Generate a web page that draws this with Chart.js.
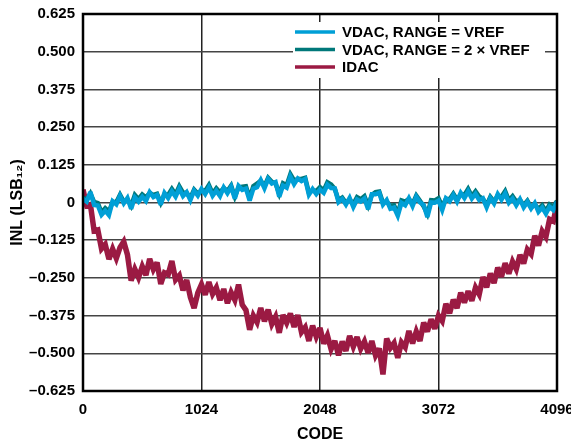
<!DOCTYPE html>
<html>
<head>
<meta charset="utf-8">
<title>INL vs CODE</title>
<script src="https://cdn.jsdelivr.net/npm/chart.js@4.4.1/dist/chart.umd.min.js"></script>
<style>
  html, body { margin: 0; padding: 0; background: #fff; }
  #wrap { width: 571px; height: 445px; }
</style>
</head>
<body>
<div id="wrap"><canvas id="inlChart" width="571" height="445"></canvas></div>
<script>
// codes sampled every 32 LSB
var codes = [0,32,64,96,128,160,192,224,256,288,320,352,384,416,448,480,512,544,576,608,
  640,672,704,736,768,800,832,864,896,928,960,992,1024,1056,1088,1120,1152,1184,1216,1248,
  1280,1312,1344,1376,1408,1440,1472,1504,1536,1568,1600,1632,1664,1696,1728,1760,1792,1824,1856,1888,
  1920,1952,1984,2016,2048,2080,2112,2144,2176,2208,2240,2272,2304,2336,2368,2400,2432,2464,2496,2528,
  2560,2592,2624,2656,2688,2720,2752,2784,2816,2848,2880,2912,2944,2976,3008,3040,3072,3104,3136,3168,
  3200,3232,3264,3296,3328,3360,3392,3424,3456,3488,3520,3552,3584,3616,3648,3680,3712,3744,3776,3808,
  3840,3872,3904,3936,3968,4000,4032,4064,4096];

var vdacVref = [0.012,0.003,0.035,-0.008,-0.010,-0.041,-0.027,-0.042,0.004,-0.006,
  0.022,-0.003,0.015,-0.021,0.017,0.003,0.019,0.005,0.034,0.018,
  0.025,-0.007,0.032,0.015,0.037,0.019,0.046,0.021,0.034,0.008,
  0.039,0.023,0.045,0.028,0.050,0.022,0.039,0.021,0.050,0.031,
  0.052,0.013,0.055,0.042,0.046,0.006,0.046,0.051,0.074,0.047,
  0.078,0.063,0.068,0.019,0.056,0.049,0.086,0.061,0.080,0.071,
  0.078,0.026,0.045,0.028,0.043,0.032,0.059,0.048,0.047,0.001,
  0.012,-0.007,0.015,-0.015,0.010,0.003,0.013,-0.022,0.027,0.027,
  0.032,-0.007,0.008,-0.021,-0.017,-0.044,-0.001,-0.009,0.014,-0.012,
  0.019,0.000,-0.008,-0.048,0.000,-0.001,0.006,-0.025,0.014,0.004,
  0.025,0.003,0.032,0.015,0.037,0.013,0.029,0.008,0.014,-0.016,
  0.015,-0.003,0.028,0.009,0.030,-0.001,0.013,-0.009,0.011,-0.016,
  0.002,-0.020,-0.002,-0.031,-0.017,-0.037,-0.014,-0.025,0.003];

var vdac2Vref = [0.016,0.009,0.030,0.002,-0.002,-0.033,-0.019,-0.030,0.002,0.001,
  0.026,0.003,0.010,-0.011,0.025,0.011,0.027,0.017,0.032,0.025,
  0.029,-0.001,0.027,0.025,0.045,0.027,0.054,0.033,0.032,0.015,
  0.043,0.029,0.040,0.038,0.058,0.030,0.047,0.033,0.048,0.038,
  0.056,0.019,0.050,0.052,0.054,0.014,0.054,0.063,0.072,0.054,
  0.082,0.069,0.063,0.029,0.064,0.057,0.094,0.073,0.078,0.078,
  0.082,0.032,0.040,0.038,0.051,0.040,0.067,0.060,0.045,0.008,
  0.016,-0.001,0.010,-0.005,0.018,0.011,0.021,-0.010,0.025,0.034,
  0.036,-0.001,0.003,-0.011,-0.009,-0.036,0.007,0.003,0.012,-0.005,
  0.023,0.006,-0.013,-0.038,0.008,0.007,0.014,-0.013,0.012,0.011,
  0.029,0.009,0.027,0.025,0.045,0.021,0.037,0.020,0.012,-0.009,
  0.019,0.003,0.023,0.019,0.038,0.007,0.021,0.003,0.009,-0.009,
  0.006,-0.016,-0.007,-0.021,-0.009,-0.029,-0.006,-0.013,0.005];

var idac = [0.043,-0.011,-0.007,-0.094,-0.091,-0.153,-0.139,-0.188,-0.154,-0.185,
  -0.149,-0.130,-0.173,-0.259,-0.221,-0.249,-0.212,-0.241,-0.187,-0.222,
  -0.199,-0.270,-0.233,-0.239,-0.194,-0.256,-0.242,-0.291,-0.257,-0.314,
  -0.350,-0.300,-0.272,-0.306,-0.264,-0.303,-0.282,-0.324,-0.287,-0.334,
  -0.298,-0.323,-0.272,-0.339,-0.357,-0.422,-0.375,-0.397,-0.350,-0.394,
  -0.355,-0.403,-0.379,-0.432,-0.373,-0.399,-0.368,-0.413,-0.373,-0.430,
  -0.414,-0.459,-0.408,-0.445,-0.416,-0.468,-0.441,-0.486,-0.459,-0.507,
  -0.461,-0.492,-0.442,-0.478,-0.446,-0.485,-0.461,-0.499,-0.459,-0.507,
  -0.484,-0.570,-0.451,-0.482,-0.466,-0.515,-0.464,-0.480,-0.426,-0.467,
  -0.428,-0.459,-0.398,-0.428,-0.387,-0.419,-0.375,-0.393,-0.336,-0.367,
  -0.322,-0.350,-0.299,-0.332,-0.294,-0.326,-0.282,-0.304,-0.247,-0.281,
  -0.235,-0.267,-0.216,-0.246,-0.201,-0.236,-0.196,-0.221,-0.174,-0.202,
  -0.156,-0.171,-0.110,-0.143,-0.095,-0.114,-0.056,-0.062,-0.007];

var seriesNames = ['VDAC, RANGE = VREF', 'VDAC, RANGE = 2 \u00D7 VREF', 'IDAC'];
var seriesColors = ['#009fd6', '#00787a', '#9b1a43'];
var seriesWidths = [4.5, 4.5, 5.5];
var xTicks = [0, 1024, 2048, 3072, 4096];
var yTicks = [-0.625, -0.5, -0.375, -0.25, -0.125, 0, 0.125, 0.25, 0.375, 0.5, 0.625];

var FONT = "'Liberation Sans', Arial, Helvetica, sans-serif";

function toPoints(arr) {
  return codes.map(function (c, i) { return { x: c, y: arr[i] }; });
}

// frame + legend drawn on top, legend box hides the grid behind it
var frameLegend = {
  id: 'frameLegend',
  beforeDatasetsDraw: function (chart) {
    // keep the spiky miter look but stop huge overshoots
    chart.ctx.miterLimit = 3;
  },
  afterDraw: function (chart) {
    var ctx = chart.ctx, a = chart.chartArea;
    ctx.save();
    ctx.fillStyle = '#fff';
    ctx.fillRect(293, 22, 252, 56);
    ctx.font = 'bold 15px ' + FONT;
    ctx.textBaseline = 'middle';
    ctx.fillStyle = '#000';
    var rows = [32, 49.5, 67];
    for (var i = 0; i < seriesNames.length; i++) {
      ctx.strokeStyle = seriesColors[i];
      ctx.lineWidth = 3.5;
      ctx.beginPath();
      ctx.moveTo(295, rows[i]);
      ctx.lineTo(335, rows[i]);
      ctx.stroke();
      ctx.fillText(seriesNames[i], 342, rows[i] + 1);
    }
    ctx.strokeStyle = '#000';
    ctx.lineWidth = 2.5;
    ctx.strokeRect(a.left, a.top, a.right - a.left, a.bottom - a.top);
    ctx.restore();
  }
};

var ctx = document.getElementById('inlChart').getContext('2d');
var chart = new Chart(ctx, {
  type: 'line',
  data: {
    datasets: [
      { label: seriesNames[0], data: toPoints(vdacVref), borderColor: seriesColors[0], borderWidth: seriesWidths[0] },
      { label: seriesNames[1], data: toPoints(vdac2Vref), borderColor: seriesColors[1], borderWidth: seriesWidths[1] },
      { label: seriesNames[2], data: toPoints(idac), borderColor: seriesColors[2], borderWidth: seriesWidths[2] }
    ]
  },
  options: {
    responsive: false,
    animation: false,
    devicePixelRatio: 1,
    layout: { padding: { left: 0, right: 14, top: 14, bottom: 0 } },
    elements: {
      point: { radius: 0 },
      line: { tension: 0, borderJoinStyle: 'miter' }
    },
    plugins: {
      legend: { display: false },
      tooltip: { enabled: false }
    },
    scales: {
      x: {
        type: 'linear',
        min: 0,
        max: 4096,
        afterBuildTicks: function (s) { s.ticks = xTicks.map(function (v) { return { value: v }; }); },
        afterFit: function (s) { s.height = 54; s.paddingLeft = 0; s.paddingRight = 0; },
        grid: { color: '#222', lineWidth: 1.5, drawTicks: false },
        border: { display: false },
        ticks: {
          color: '#000', padding: 10, maxRotation: 0, autoSkip: false,
          font: { family: FONT, size: 15, weight: 'bold' },
          callback: function (v) { return String(v); }
        },
        title: {
          display: true, text: 'CODE', color: '#000',
          font: { family: FONT, size: 16, weight: 'bold' },
          padding: { top: 0, bottom: 1 }
        }
      },
      y: {
        min: -0.625,
        max: 0.625,
        afterBuildTicks: function (s) { s.ticks = yTicks.map(function (v) { return { value: v }; }); },
        afterFit: function (s) { s.width = 83; s.paddingTop = 0; s.paddingBottom = 0; },
        grid: { color: '#444', lineWidth: 1.5, drawTicks: false },
        border: { display: false },
        ticks: {
          color: '#000', padding: 8,
          font: { family: FONT, size: 15, weight: 'bold' },
          callback: function (v) {
            if (v === 0) return '0';
            return (v < 0 ? '\u2013' : '') + Math.abs(v).toFixed(3);
          }
        },
        title: {
          display: true, text: 'INL (LSB\u2081\u2082)', color: '#000',
          font: { family: FONT, size: 16, weight: 'bold' },
          padding: { top: 8, bottom: 0 }
        }
      }
    }
  },
  plugins: [frameLegend]
});
</script>
</body>
</html>
